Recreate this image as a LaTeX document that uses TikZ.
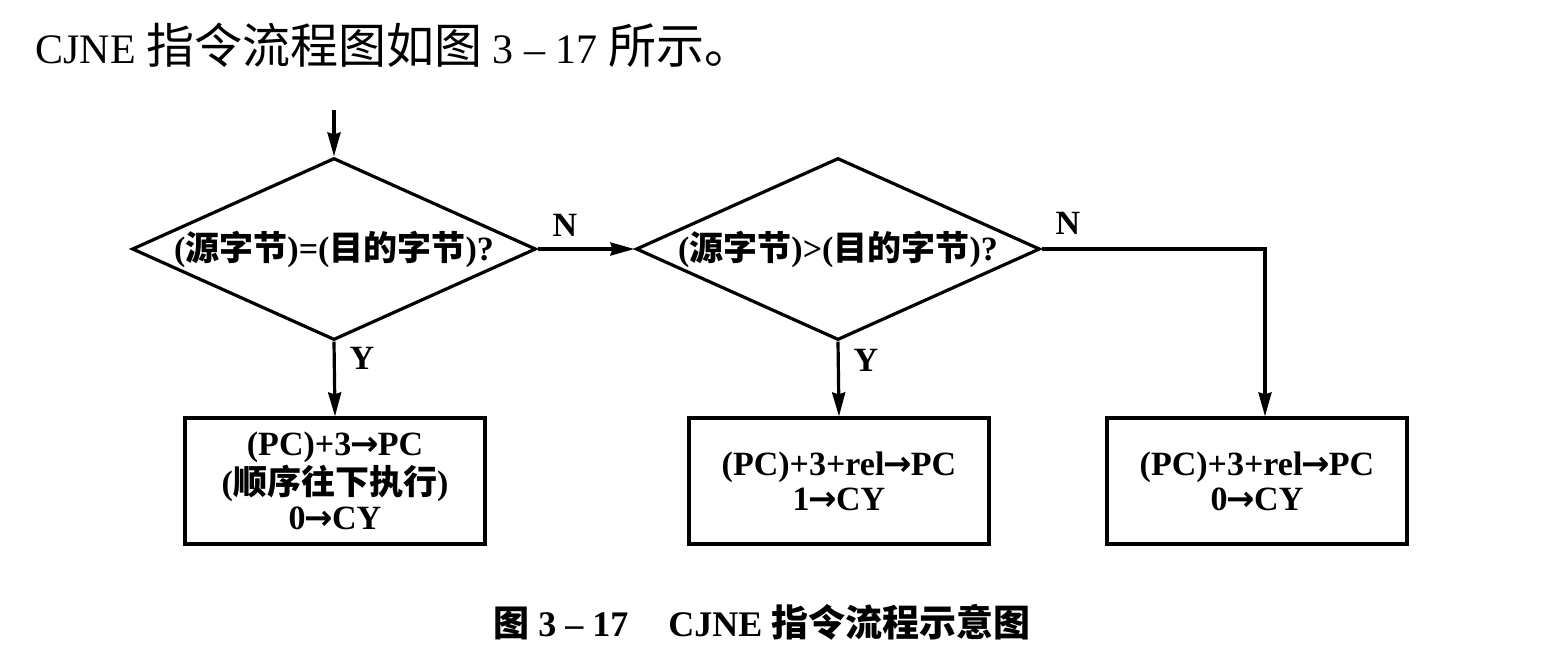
\documentclass[tikz,border=0pt]{standalone}
\usepackage{fontspec}
\setmainfont{Liberation Serif}
\newfontfamily\cjk{Noto Sans CJK SC}
\newfontfamily\sym{DejaVu Sans}
\usetikzlibrary{shapes.geometric,arrows.meta}
\newcommand{\zh}[1]{{\cjk #1}}
\newcommand{\ar}{{\sym\bfseries\kern-0.5pt→\kern-0.5pt}}
\begin{document}
\begin{tikzpicture}[x=0.5pt,y=-0.5pt,
  ln/.style={line width=1.6pt},
  arr/.style={ln,-{Stealth[length=12pt,width=6.5pt,inset=1pt]}},
  decision/.style={diamond,draw,ln,minimum width=202pt,minimum height=91pt,inner sep=0pt,
    font=\bfseries\fontsize{17}{17}\selectfont},
  proc/.style={rectangle,draw,ln,minimum width=150pt,minimum height=63pt,align=center,inner sep=0pt,
    font=\bfseries\fontsize{17}{17.5}\selectfont},
  lbl/.style={inner sep=0pt,font=\bfseries\fontsize{17}{17}\selectfont}]
\useasboundingbox (0,0) rectangle (1559,655);

\node[anchor=west,inner sep=0pt] (hdr) at (35,45)
  {\fontsize{21}{21}\selectfont CJNE \zh{\fontsize{24}{24}\selectfont 指令流程图如图} 3 – 17 \zh{\fontsize{24}{24}\selectfont 所示。}};

\coordinate (s) at (334,110);
\node[decision] (d1) at (334,249) {\makebox[0pt]{(\zh{源字节})=(\zh{目的字节})?}};
\node[decision] (d2) at (838,249) {\makebox[0pt]{(\zh{源字节})>(\zh{目的字节})?}};

\node[proc] (b1) at (335,481) {(PC)+3\ar PC\\(\zh{顺序往下执行})\\0\ar CY};
\node[proc] (b2) at (839,481) {(PC)+3+rel\ar PC\\1\ar CY};
\node[proc] (b3) at (1257,481) {(PC)+3+rel\ar PC\\0\ar CY};

\draw[arr] (s) -- (d1.north);
\draw[arr] (d1.south) -- (b1.north);
\draw[arr] (d1.east) -- (d2.west);
\draw[arr] (d2.south) -- (b2.north);
\draw[arr] (d2.east) -| ([xshift=4pt]b3.north);

\node[lbl] (n1) at (565,225) {N};
\node[lbl] (n2) at (1068,223) {N};
\node[lbl] (y1) at (362,358) {Y};
\node[lbl] (y2) at (866,360) {Y};

\node[anchor=west,inner sep=0pt] (cap) at (493,622)
  {\bfseries\fontsize{18}{18}\selectfont \zh{图} 3 – 17\hspace{20pt}CJNE \zh{\fontsize{18.5}{18.5}\selectfont 指令流程示意图}};
\end{tikzpicture}
\end{document}
